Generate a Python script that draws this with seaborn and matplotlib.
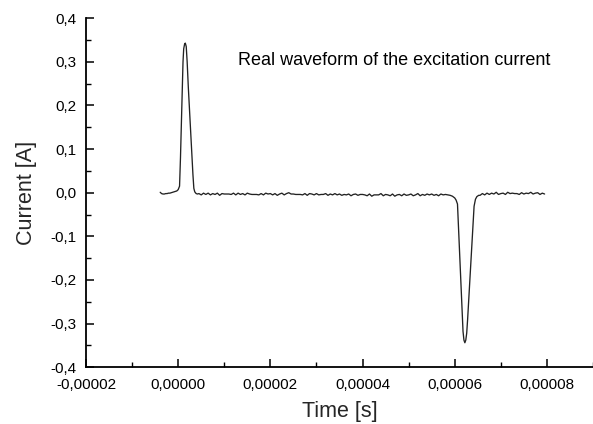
import matplotlib
matplotlib.use("Agg")
import matplotlib.pyplot as plt
from matplotlib.ticker import MultipleLocator, FuncFormatter
import seaborn as sns
import pandas as pd

# time in microseconds (converted to seconds below), current in A
time_us = [
    -3.9, -3.6, -3.3, -3.0, -2.7, -2.4, -2.1, -1.8, -1.5, -1.2, -0.9, -0.6, -0.3,
    0.0, 0.3, 0.5, 0.7, 0.9, 1.05, 1.2, 1.4, 1.55, 1.75, 1.95, 2.2, 2.4, 2.6, 2.8,
    3.0, 3.2, 3.4, 3.6, 3.9, 4.2,
    4.5, 5.0, 5.5, 6.0, 6.5, 7.0, 7.5, 8.0, 8.5, 9.0, 9.5, 10.0, 10.5, 11.0, 11.5,
    12.0, 12.5, 13.0, 13.5, 14.0, 14.5, 15.0, 15.5, 16.0, 16.5, 17.0, 17.5, 18.0,
    18.5, 19.0, 19.5, 20.0, 20.5, 21.0, 21.5, 22.0, 22.5, 23.0, 23.5, 24.0, 24.5,
    25.0, 25.5, 26.0, 26.5, 27.0, 27.5, 28.0, 28.5, 29.0, 29.5, 30.0, 30.5, 31.0,
    31.5, 32.0, 32.5, 33.0, 33.5, 34.0, 34.5, 35.0, 35.5, 36.0, 36.5, 37.0, 37.5,
    38.0, 38.5, 39.0, 39.5, 40.0, 40.5, 41.0, 41.5, 42.0, 42.5, 43.0, 43.5, 44.0,
    44.5, 45.0, 45.5, 46.0, 46.5, 47.0, 47.5, 48.0, 48.5, 49.0, 49.5, 50.0, 50.5,
    51.0, 51.5, 52.0, 52.5, 53.0, 53.5, 54.0, 54.5, 55.0, 55.5, 56.0, 56.5, 57.0,
    57.5, 58.0, 58.5, 59.0, 59.5, 60.0, 60.3, 60.6, 60.8, 61.0, 61.2, 61.4, 61.6,
    61.8, 62.0, 62.2, 62.4, 62.6, 62.8, 63.0, 63.2, 63.4, 63.6, 63.8, 64.0, 64.2,
    64.5, 64.8, 65.2, 65.5, 66.0, 66.5, 67.0, 67.5, 68.0, 68.5, 69.0, 69.5, 70.0,
    70.5, 71.0, 71.5, 72.0, 72.5, 73.0, 73.5, 74.0, 74.5, 75.0, 75.5, 76.0, 76.5,
    77.0, 77.5, 78.0, 78.5, 79.0, 79.5,
]

current_a = [
    0.001, -0.002, -0.003, -0.003, -0.002, -0.002, -0.001, -0.001, 0.000, 0.001,
    0.002, 0.003, 0.004,
    0.007, 0.015, 0.080, 0.160, 0.240, 0.300, 0.330, 0.341, 0.343, 0.335, 0.300,
    0.242, 0.202, 0.162, 0.122, 0.082, 0.042, 0.010, 0.002, -0.002, -0.003,
    -0.002, -0.005, -0.001, -0.004, -0.001, -0.005, -0.002, -0.004, -0.001,
    -0.006, -0.002, -0.003, -0.003, -0.003, -0.004, -0.001, -0.005, -0.001,
    -0.004, -0.002, -0.005, -0.001, -0.003, -0.004, -0.004, -0.004, -0.005,
    -0.002, -0.005, -0.001, -0.003, -0.002, -0.005, -0.002, -0.006, -0.003,
    -0.001, -0.005, -0.002, 0.000, -0.003, -0.003, -0.004, -0.004, -0.004,
    -0.005, -0.002, -0.006, -0.002, -0.003, -0.005, -0.002, -0.005, -0.004,
    -0.004, -0.002, -0.006, -0.003, -0.005, -0.002, -0.005, -0.003, -0.006,
    -0.004, -0.005, -0.003, -0.007, -0.004, -0.003, -0.006, -0.004, -0.004,
    -0.005, -0.007, -0.003, -0.008, -0.005, -0.005, -0.005, -0.002, -0.007,
    -0.004, -0.005, -0.007, -0.003, -0.008, -0.005, -0.004, -0.007, -0.003,
    -0.006, -0.005, -0.003, -0.007, -0.005, -0.002, -0.007, -0.004, -0.006,
    -0.003, -0.005, -0.003, -0.006, -0.004, -0.007, -0.003, -0.005, -0.004,
    -0.005, -0.006, -0.008, -0.012, -0.017, -0.026, -0.075, -0.124, -0.173,
    -0.222, -0.271, -0.318, -0.338, -0.344, -0.338, -0.322, -0.290, -0.253,
    -0.216, -0.179, -0.142, -0.105, -0.068, -0.031, -0.015, -0.009, -0.006,
    -0.006, -0.002, -0.005, -0.001, -0.004, -0.001, -0.003, 0.001, -0.004,
    -0.002, -0.001, -0.004, 0.001, -0.002, -0.001, -0.002, -0.002, -0.004,
    0.000, -0.003, -0.001, -0.002, 0.001, -0.003, -0.001, 0.000, -0.004,
    -0.001, -0.003,
]

x_ticks = [-0.00002, 0.0, 0.00002, 0.00004, 0.00006, 0.00008]
y_ticks = [-0.4, -0.3, -0.2, -0.1, 0.0, 0.1, 0.2, 0.3, 0.4]
annotation = "Real waveform of the excitation current"
x_label = "Time [s]"
y_label = "Current [A]"

df = pd.DataFrame({"t": [v * 1e-6 for v in time_us], "i": current_a})

sns.set_style("ticks")
plt.rcParams["font.family"] = ["Liberation Sans", "DejaVu Sans"]

fig = plt.figure(figsize=(5.93, 4.24), dpi=100)
ax = fig.add_axes([0.145, 0.134, 0.855, 0.823])

sns.lineplot(data=df, x="t", y="i", ax=ax, color="#222222", linewidth=0.95,
             sort=False, estimator=None)

ax.set_xlim(-0.00002, 0.00009)
ax.set_ylim(-0.4, 0.4)
ax.set_xticks(x_ticks)
ax.set_yticks(y_ticks)
ax.xaxis.set_minor_locator(MultipleLocator(0.00001))
ax.yaxis.set_minor_locator(MultipleLocator(0.05))


def fmt_x(v, pos):
    if abs(v) < 1e-12:
        v = 0.0
    return f"{v:.5f}".replace(".", ",")


def fmt_y(v, pos):
    if abs(v) < 1e-9:
        v = 0.0
    return f"{v:.1f}".replace(".", ",")


ax.xaxis.set_major_formatter(FuncFormatter(fmt_x))
ax.yaxis.set_major_formatter(FuncFormatter(fmt_y))

for side in ["top", "right"]:
    ax.spines[side].set_visible(False)
for side in ["left", "bottom"]:
    ax.spines[side].set_linewidth(1.3)
    ax.spines[side].set_color("black")

ax.tick_params(which="major", direction="in", length=5.5, width=1.1,
               labelsize=11, colors="black")
ax.tick_params(which="minor", direction="in", length=3.5, width=1.0,
               colors="black")
ax.tick_params(axis="x", which="major", pad=7.5)
ax.tick_params(axis="y", which="major", pad=6.5)

ax.set_xlabel(x_label, fontsize=15.5, labelpad=7)
ax.set_ylabel(y_label, fontsize=15.5, labelpad=10)

ax.text(0.0000129, 0.303, annotation, fontsize=13, ha="left", va="center",
        color="black")

fig.savefig("out.png", dpi=100)
